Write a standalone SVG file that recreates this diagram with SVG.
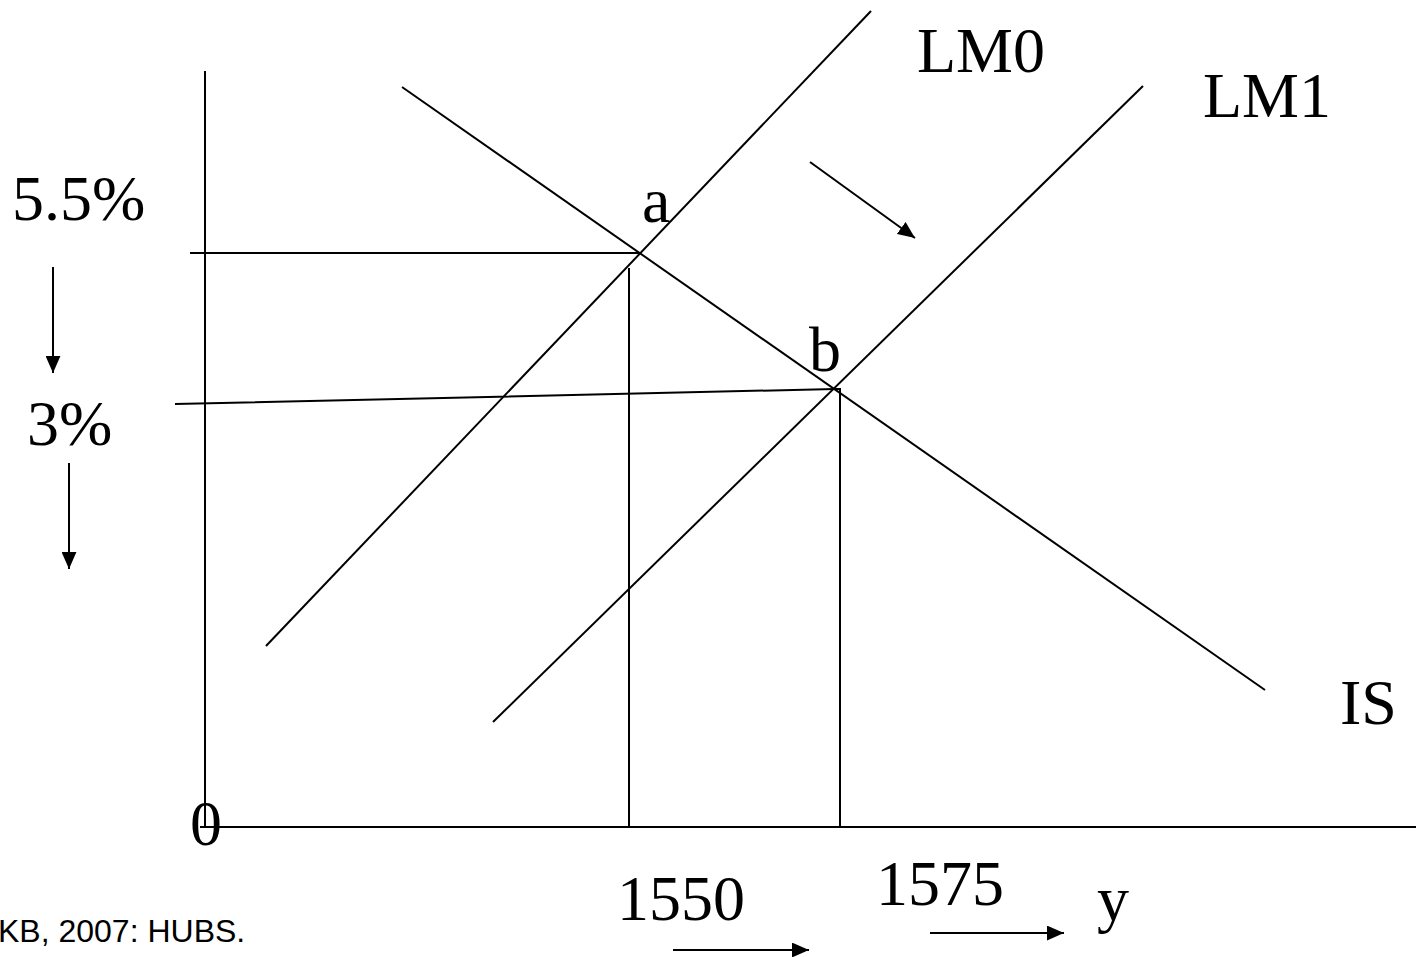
<svg xmlns="http://www.w3.org/2000/svg" width="1416" height="957" viewBox="0 0 1416 957">
<style>
.ln{stroke:#000;stroke-width:2;fill:none}
.ar{stroke:#000;stroke-width:2;fill:none;marker-end:url(#ah)}
.t{font-family:"Liberation Serif","Times New Roman",serif;font-size:64px;fill:#000}
.c{font-family:"Liberation Sans",Arial,sans-serif;font-size:32px;fill:#000}
</style>
<defs>
<marker id="ah" viewBox="0 0 16 14" refX="16" refY="7" markerWidth="17" markerHeight="15" markerUnits="userSpaceOnUse" orient="auto">
<path d="M0,0 L16,7 L0,14 Z" fill="#000"/>
</marker>
</defs>
<rect width="1416" height="957" fill="#fff"/>
<g id="axes">
<line class="ln" x1="205" y1="71" x2="205" y2="827"/>
<line class="ln" x1="200" y1="827" x2="1416" y2="827"/>
</g>
<g id="curves">
<line id="LM0" class="ln" x1="266" y1="646" x2="871" y2="11"/>
<line id="LM1" class="ln" x1="493" y1="722" x2="1143" y2="86"/>
<line id="IS" class="ln" x1="402" y1="87" x2="1265" y2="690"/>
</g>
<g id="guides">
<line class="ln" x1="190" y1="253" x2="640" y2="253"/>
<line class="ln" x1="629" y1="268" x2="629" y2="827"/>
<polyline class="ln" points="175,404 835,389 840,389 840,827"/>
</g>
<g id="arrows">
<line class="ar" x1="53" y1="267" x2="53" y2="373"/>
<line class="ar" x1="69" y1="463" x2="69" y2="569"/>
<line class="ar" x1="810" y1="162" x2="915" y2="238"/>
<line class="ar" x1="673" y1="950" x2="809" y2="950"/>
<line class="ar" x1="930" y1="933" x2="1064" y2="933"/>
</g>
<g id="labels">
<text class="t" x="917" y="72">LM0</text>
<text class="t" x="1203" y="117">LM1</text>
<text class="t" x="642" y="222">a</text>
<text class="t" x="809" y="371">b</text>
<text class="t" x="1340" y="724">IS</text>
<text class="t" x="12" y="220">5.5%</text>
<text class="t" x="27" y="445">3%</text>
<text class="t" x="190" y="845">0</text>
<text class="t" x="617" y="920">1550</text>
<text class="t" x="876" y="905">1575</text>
<text class="t" x="1097" y="920">y</text>
<text class="c" x="-2" y="942">KB, 2007: HUBS.</text>
</g>
</svg>
